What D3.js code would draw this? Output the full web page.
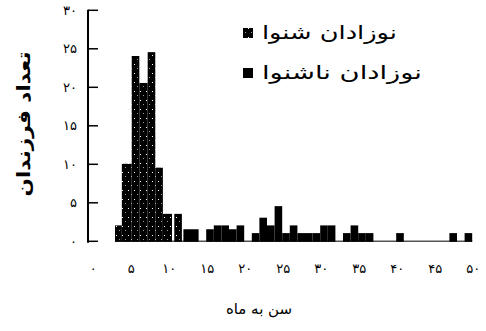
<!DOCTYPE html>
<html><head><meta charset="utf-8">
<script src="https://cdn.jsdelivr.net/npm/d3@7"></script>
<style>body{margin:0;background:#fff}svg{display:block}</style>
</head><body><svg id="c" width="486" height="331"></svg>
<script>
// hearing babies: bin edges (months) and counts
const hearingStart = [3.0, 3.9, 5.2, 6.2, 7.3, 8.3, 9.3, 10.8];
const hearingEnd   = [3.9, 5.2, 6.2, 7.3, 8.3, 9.3, 10.5, 11.8];
const hearing      = [2, 10, 24, 20.5, 24.5, 9.5, 3.5, 3.5];
// deaf babies: 1-month bins (start month) and counts
const deafMonths = [12,13,14,15,16,17,18,19,20,21,22,23,24,25,26,27,28,29,30,31,32,33,34,35,36,37,38,39,40,41,42,43,44,45,46,47,48,49];
const deaf       = [1.5,1.5,0,1.5,2,2,1.5,2,0,1,3,2,4.5,1,2,1,1,1,2,2,0,1,2,1,1,0,0,0,1,0,0,0,0,0,0,1,0,1];
const xTicks = [0,5,10,15,20,25,30,35,40,45,50];
const yTicks = [0,5,10,15,20,25,30];
const legendLabels = ["نوزادان شنوا","نوزادان ناشنوا"];
const xTitle = "سن به ماه";
const yTitle = "تعداد فرزندان";

const fa = n => String(n).replace(/\d/g, d => "۰۱۲۳۴۵۶۷۸۹"[d]);
const svg = d3.select("#c");
const font = "DejaVu Sans";

const defs = svg.append("defs");
const pat = defs.append("pattern").attr("id","dots").attr("patternUnits","userSpaceOnUse")
  .attr("width",6).attr("height",9);
pat.append("rect").attr("width",6).attr("height",9).attr("fill","#000");
pat.append("rect").attr("x",2).attr("y",1).attr("width",1).attr("height",1).attr("fill","#fff");
pat.append("rect").attr("x",5).attr("y",5).attr("width",1).attr("height",1).attr("fill","#999");

const x = d3.scaleLinear().domain([0,50]).range([92.2,472.2]);
const y = d3.scaleLinear().domain([0,30]).range([240.8,9.8]);

// baseline
svg.append("line").attr("x1",x(3)).attr("x2",x(50)).attr("y1",y(0)+0.5).attr("y2",y(0)+0.5)
  .attr("stroke","#555").attr("stroke-width",1.5);

// hearing bars
const hRows = hearing.map((v,i)=>({a:hearingStart[i], b:hearingEnd[i], v}));
svg.append("g").selectAll("rect").data(hRows).join("rect")
  .attr("x",r=>x(r.a)).attr("width",r=>x(r.b)-x(r.a))
  .attr("y",r=>y(r.v)).attr("height",r=>y(0)-y(r.v)+1)
  .attr("fill","url(#dots)");
// deaf bars
const dRows = deafMonths.map((m,i)=>({m, v:deaf[i]})).filter(r=>r.v>0);
svg.append("g").selectAll("rect").data(dRows).join("rect")
  .attr("x",r=>x(r.m)).attr("width",r=>x(r.m+1)-x(r.m))
  .attr("y",r=>y(r.v)).attr("height",r=>y(0)-y(r.v)+1)
  .attr("fill","#000");

// y axis
const yAxis = d3.axisRight(y).tickValues(yTicks).tickSize(10).tickFormat(()=> "");
const gy = svg.append("g").attr("transform","translate(88,0)").call(yAxis);
gy.select(".domain").attr("stroke","#000").attr("stroke-width",2).attr("d",`M0,${y(30)}V${y(0)+2}`);
gy.selectAll(".tick line").attr("stroke","#000").attr("stroke-width",1.5);
svg.append("g").selectAll("text").data(yTicks).join("text")
  .attr("x",77).attr("y",d=>y(d)+5).attr("text-anchor","end")
  .attr("font-family",font).attr("font-size",13).attr("letter-spacing",2).text(d=>fa(d));

// x tick labels
svg.append("g").selectAll("text").data(xTicks).join("text")
  .attr("x",d=>x(d)+1).attr("y",273).attr("text-anchor","middle")
  .attr("font-family",font).attr("font-size",13).attr("letter-spacing",2).text(d=>fa(d));

// titles
svg.append("text").attr("x",259).attr("y",314).attr("text-anchor","middle")
  .attr("font-family",font).attr("font-size",15).text(xTitle);
svg.append("text").attr("transform","translate(30,124) rotate(-90)").attr("text-anchor","middle")
  .attr("font-family",font).attr("font-size",18).attr("font-weight","bold")
  .attr("textLength",145).attr("lengthAdjust","spacingAndGlyphs").text(yTitle);

// legend
const lg = svg.append("g");
const legW = [135,160];
[0,1].forEach(i=>{
  const yy = i===0 ? 33 : 73;
  lg.append("rect").attr("x",243).attr("y",yy-5).attr("width",10).attr("height",10)
    .attr("fill", i===0 ? "url(#dots)" : "#000");
  lg.append("text").attr("x",262).attr("y",yy+6).attr("text-anchor","start")
    .attr("font-family",font).attr("font-size",19)
    .attr("textLength",legW[i]).attr("lengthAdjust","spacingAndGlyphs").text(legendLabels[i]);
});
</script></body></html>
